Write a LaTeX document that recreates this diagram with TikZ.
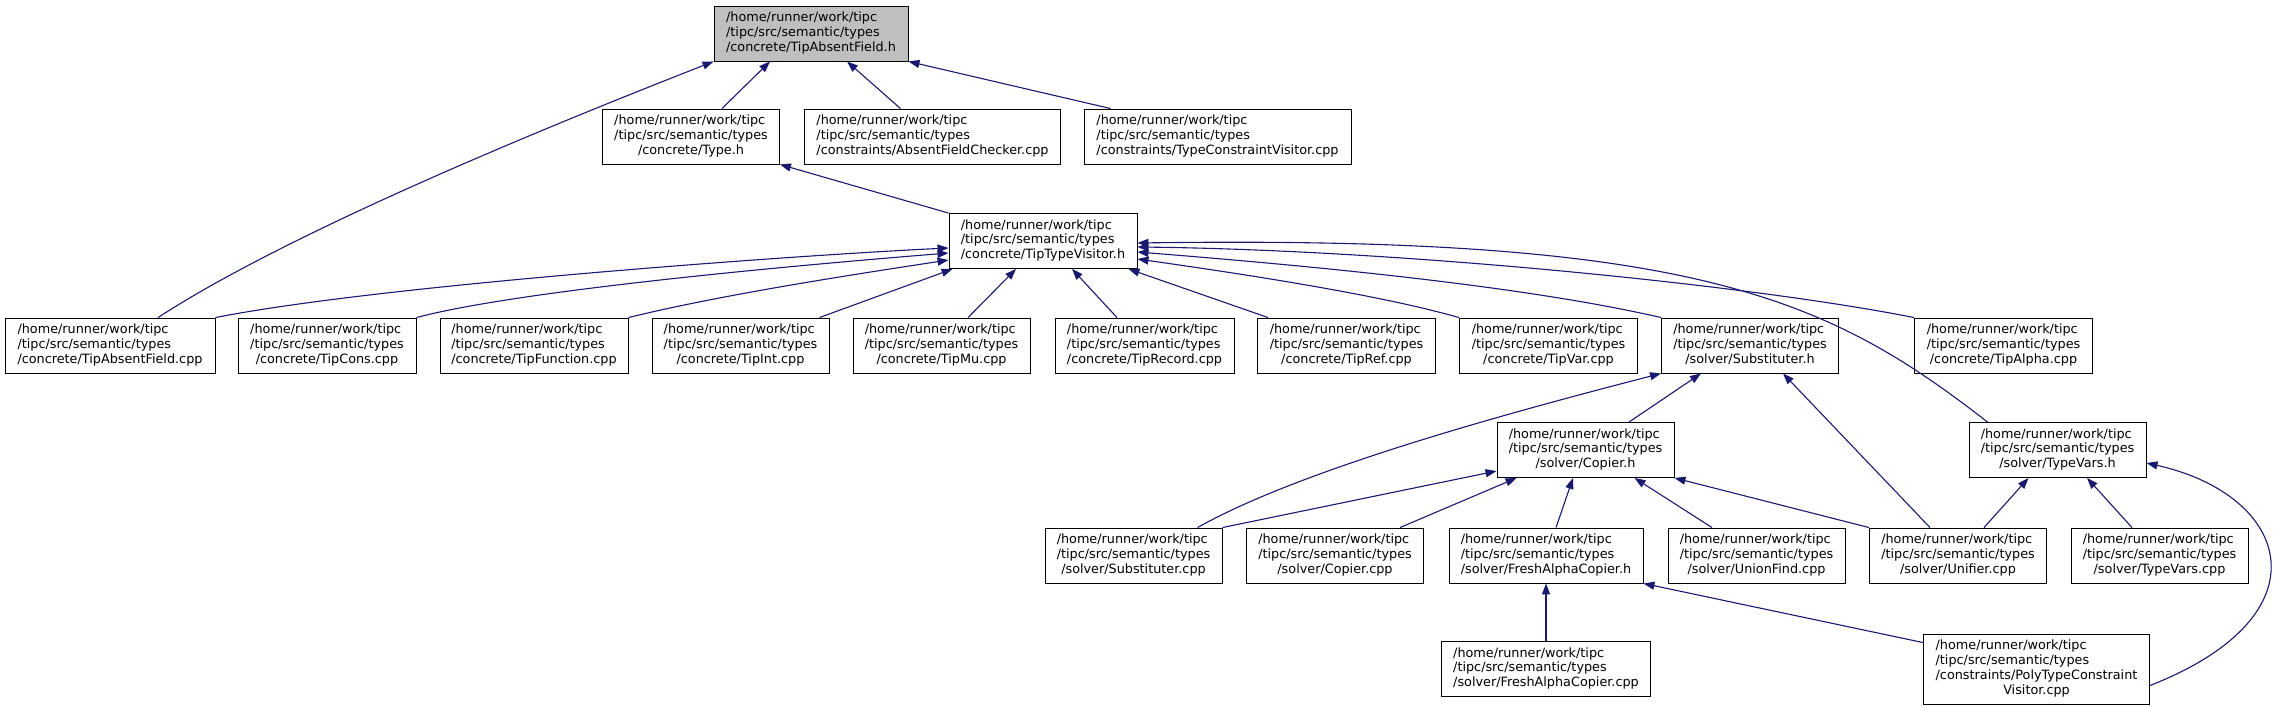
\documentclass[tikz,border=0pt]{standalone}
\usepackage{fontspec}
\usepackage{xcolor}
\usepackage{tikz}
\usetikzlibrary{arrows.meta}
\newfontfamily\dvs{DejaVu Sans}
\definecolor{edgeblue}{HTML}{191970}
\definecolor{rootgrey}{HTML}{BFBFBF}
% three-line doxygen label, last line centred
\newcommand{\flabel}[1]{\begin{tabular}{@{}l@{}}/home/runner/work/tipc\\/tipc/src/semantic/types\\\multicolumn{1}{@{}c@{}}{#1}\end{tabular}}

\begin{document}
\begin{tikzpicture}[x=1pt,y=-1pt,
  file/.style={draw=black,line width=0.9pt,fill=white,inner sep=0pt,
    minimum width=177pt,minimum height=55pt,
    font=\dvs\fontsize{12.8}{14.8}\selectfont},
  inc/.style={draw=edgeblue,line width=1.1pt,{Triangle[length=11pt,width=8pt]}-}]
  \useasboundingbox (0,0) rectangle (2277,705);
  % top
  \node[file,fill=rootgrey,minimum width=194pt] (root) at (811,33.5) {\flabel{/concrete/TipAbsentField.h}};
  \node[file] (typeh) at (691,136.5) {\flabel{/concrete/Type.h}};
  \node[file,minimum width=256pt] (afchk) at (932.5,136.5) {\flabel{/constraints/AbsentFieldChecker.cpp}};
  \node[file,minimum width=267pt] (tcvis) at (1217.5,136.5) {\flabel{/constraints/TypeConstraintVisitor.cpp}};
  \node[file,minimum width=188pt] (ttv) at (1043,241) {\flabel{/concrete/TipTypeVisitor.h}};
  % row of visitor users
  \node[file,minimum width=210pt] (afcpp) at (110,345.5) {\flabel{/concrete/TipAbsentField.cpp}};
  \node[file,minimum width=178pt] (cons) at (327,345.5) {\flabel{/concrete/TipCons.cpp}};
  \node[file,minimum width=188pt] (func) at (534,345.5) {\flabel{/concrete/TipFunction.cpp}};
  \node[file] (int) at (740.5,345.5) {\flabel{/concrete/TipInt.cpp}};
  \node[file] (mu) at (941.5,345.5) {\flabel{/concrete/TipMu.cpp}};
  \node[file,minimum width=179pt] (rec) at (1144.5,345.5) {\flabel{/concrete/TipRecord.cpp}};
  \node[file,minimum width=178pt] (ref) at (1346.5,345.5) {\flabel{/concrete/TipRef.cpp}};
  \node[file,minimum width=178pt] (var) at (1548.5,345.5) {\flabel{/concrete/TipVar.cpp}};
  \node[file] (subh) at (1750,345.5) {\flabel{/solver/Substituter.h}};
  \node[file,minimum width=178pt] (alpha) at (2003.5,345.5) {\flabel{/concrete/TipAlpha.cpp}};
  % solver headers
  \node[file] (copierh) at (1585.5,450) {\flabel{/solver/Copier.h}};
  \node[file] (tvarsh) at (2057.5,450) {\flabel{/solver/TypeVars.h}};
  % solver sources
  \node[file] (subcpp) at (1133.5,555.5) {\flabel{/solver/Substituter.cpp}};
  \node[file] (copiercpp) at (1335,555.5) {\flabel{/solver/Copier.cpp}};
  \node[file,minimum width=194pt] (fach) at (1546,555.5) {\flabel{/solver/FreshAlphaCopier.h}};
  \node[file] (uf) at (1756.5,555.5) {\flabel{/solver/UnionFind.cpp}};
  \node[file] (unif) at (1958,555.5) {\flabel{/solver/Unifier.cpp}};
  \node[file] (tvarscpp) at (2159.5,555.5) {\flabel{/solver/TypeVars.cpp}};
  \node[file,minimum width=209pt] (faccpp) at (1546,669) {\flabel{/solver/FreshAlphaCopier.cpp}};
  \node[file,minimum width=226pt,minimum height=70pt] (poly) at (2036.5,669)
    {\begin{tabular}{@{}l@{}}/home/runner/work/tipc\\/tipc/src/semantic/types\\/constraints/PolyTypeConstraint\\\multicolumn{1}{@{}c@{}}{Visitor.cpp}\end{tabular}};

  % include edges, arrow at the included file
  \draw[inc] (root.south west) .. controls (590,110) and (300,225) .. ([xshift=48]afcpp.north);
  \draw[inc] ([xshift=-41]root.south) -- ([xshift=31]typeh.north);
  \draw[inc] ([xshift=36]root.south) -- ([xshift=-32]afchk.north);
  \draw[inc] (root.south east) -- ([xshift=27]tcvis.north west);
  \draw[inc] (typeh.south east) -- (ttv.north west);
  \draw[inc] ([yshift=-7]ttv.west) .. controls (800,255) and (380,285) .. (afcpp.north east);
  \draw[inc] ([yshift=-12]ttv.west) .. controls (800,265) and (520,290) .. (cons.north east);
  \draw[inc] ([yshift=-19]ttv.west) .. controls (850,275) and (720,295) .. (func.north east);
  \draw[inc] ([xshift=4]ttv.south west) -- ([xshift=-10]int.north east);
  \draw[inc] ([xshift=-27]ttv.south) -- ([xshift=26.5]mu.north);
  \draw[inc] ([xshift=29]ttv.south) -- ([xshift=-27.5]rec.north);
  \draw[inc] ([xshift=-9]ttv.south east) -- ([xshift=11]ref.north west);
  \draw[inc] ([yshift=-18]ttv.east) .. controls (1250,275) and (1380,295) .. (var.north west);
  \draw[inc] ([yshift=-11]ttv.east) .. controls (1300,265) and (1520,285) .. (subh.north west);
  \draw[inc] ([yshift=-6]ttv.east) .. controls (1400,250) and (1750,285) .. (alpha.north west);
  \draw[inc] ([yshift=-2]ttv.east) .. controls (1700,235) and (1830,300) .. ([xshift=19]tvarsh.north west);
  \draw[inc] (subh.south west) .. controls (1500,415) and (1300,470) .. ([xshift=64]subcpp.north);
  \draw[inc] ([xshift=-49]subh.south) -- ([xshift=43.5]copierh.north);
  \draw[inc] ([xshift=33]subh.south) -- ([xshift=-28]unif.north);
  \draw[inc] ([yshift=-21]copierh.west) -- (subcpp.north east);
  \draw[inc] ([xshift=20]copierh.south west) -- ([xshift=-24]copiercpp.north east);
  \draw[inc] ([xshift=-12.5]copierh.south) -- ([xshift=10]fach.north);
  \draw[inc] ([xshift=49]copierh.south) -- ([xshift=-44.5]uf.north);
  \draw[inc] (copierh.south east) -- (unif.north west);
  \draw[inc] ([xshift=-29]tvarsh.south) -- ([xshift=26]unif.north);
  \draw[inc] ([xshift=29.5]tvarsh.south) -- ([xshift=-27.5]tvarscpp.north);
  \draw[inc] ([yshift=-13]tvarsh.east) .. controls (2290,495) and (2330,615) .. ([yshift=-16.5]poly.east);
  \draw[inc] (fach.south) -- (faccpp.north);
  \draw[inc] (fach.south east) -- ([yshift=-9]poly.north west);
\end{tikzpicture}
\end{document}
